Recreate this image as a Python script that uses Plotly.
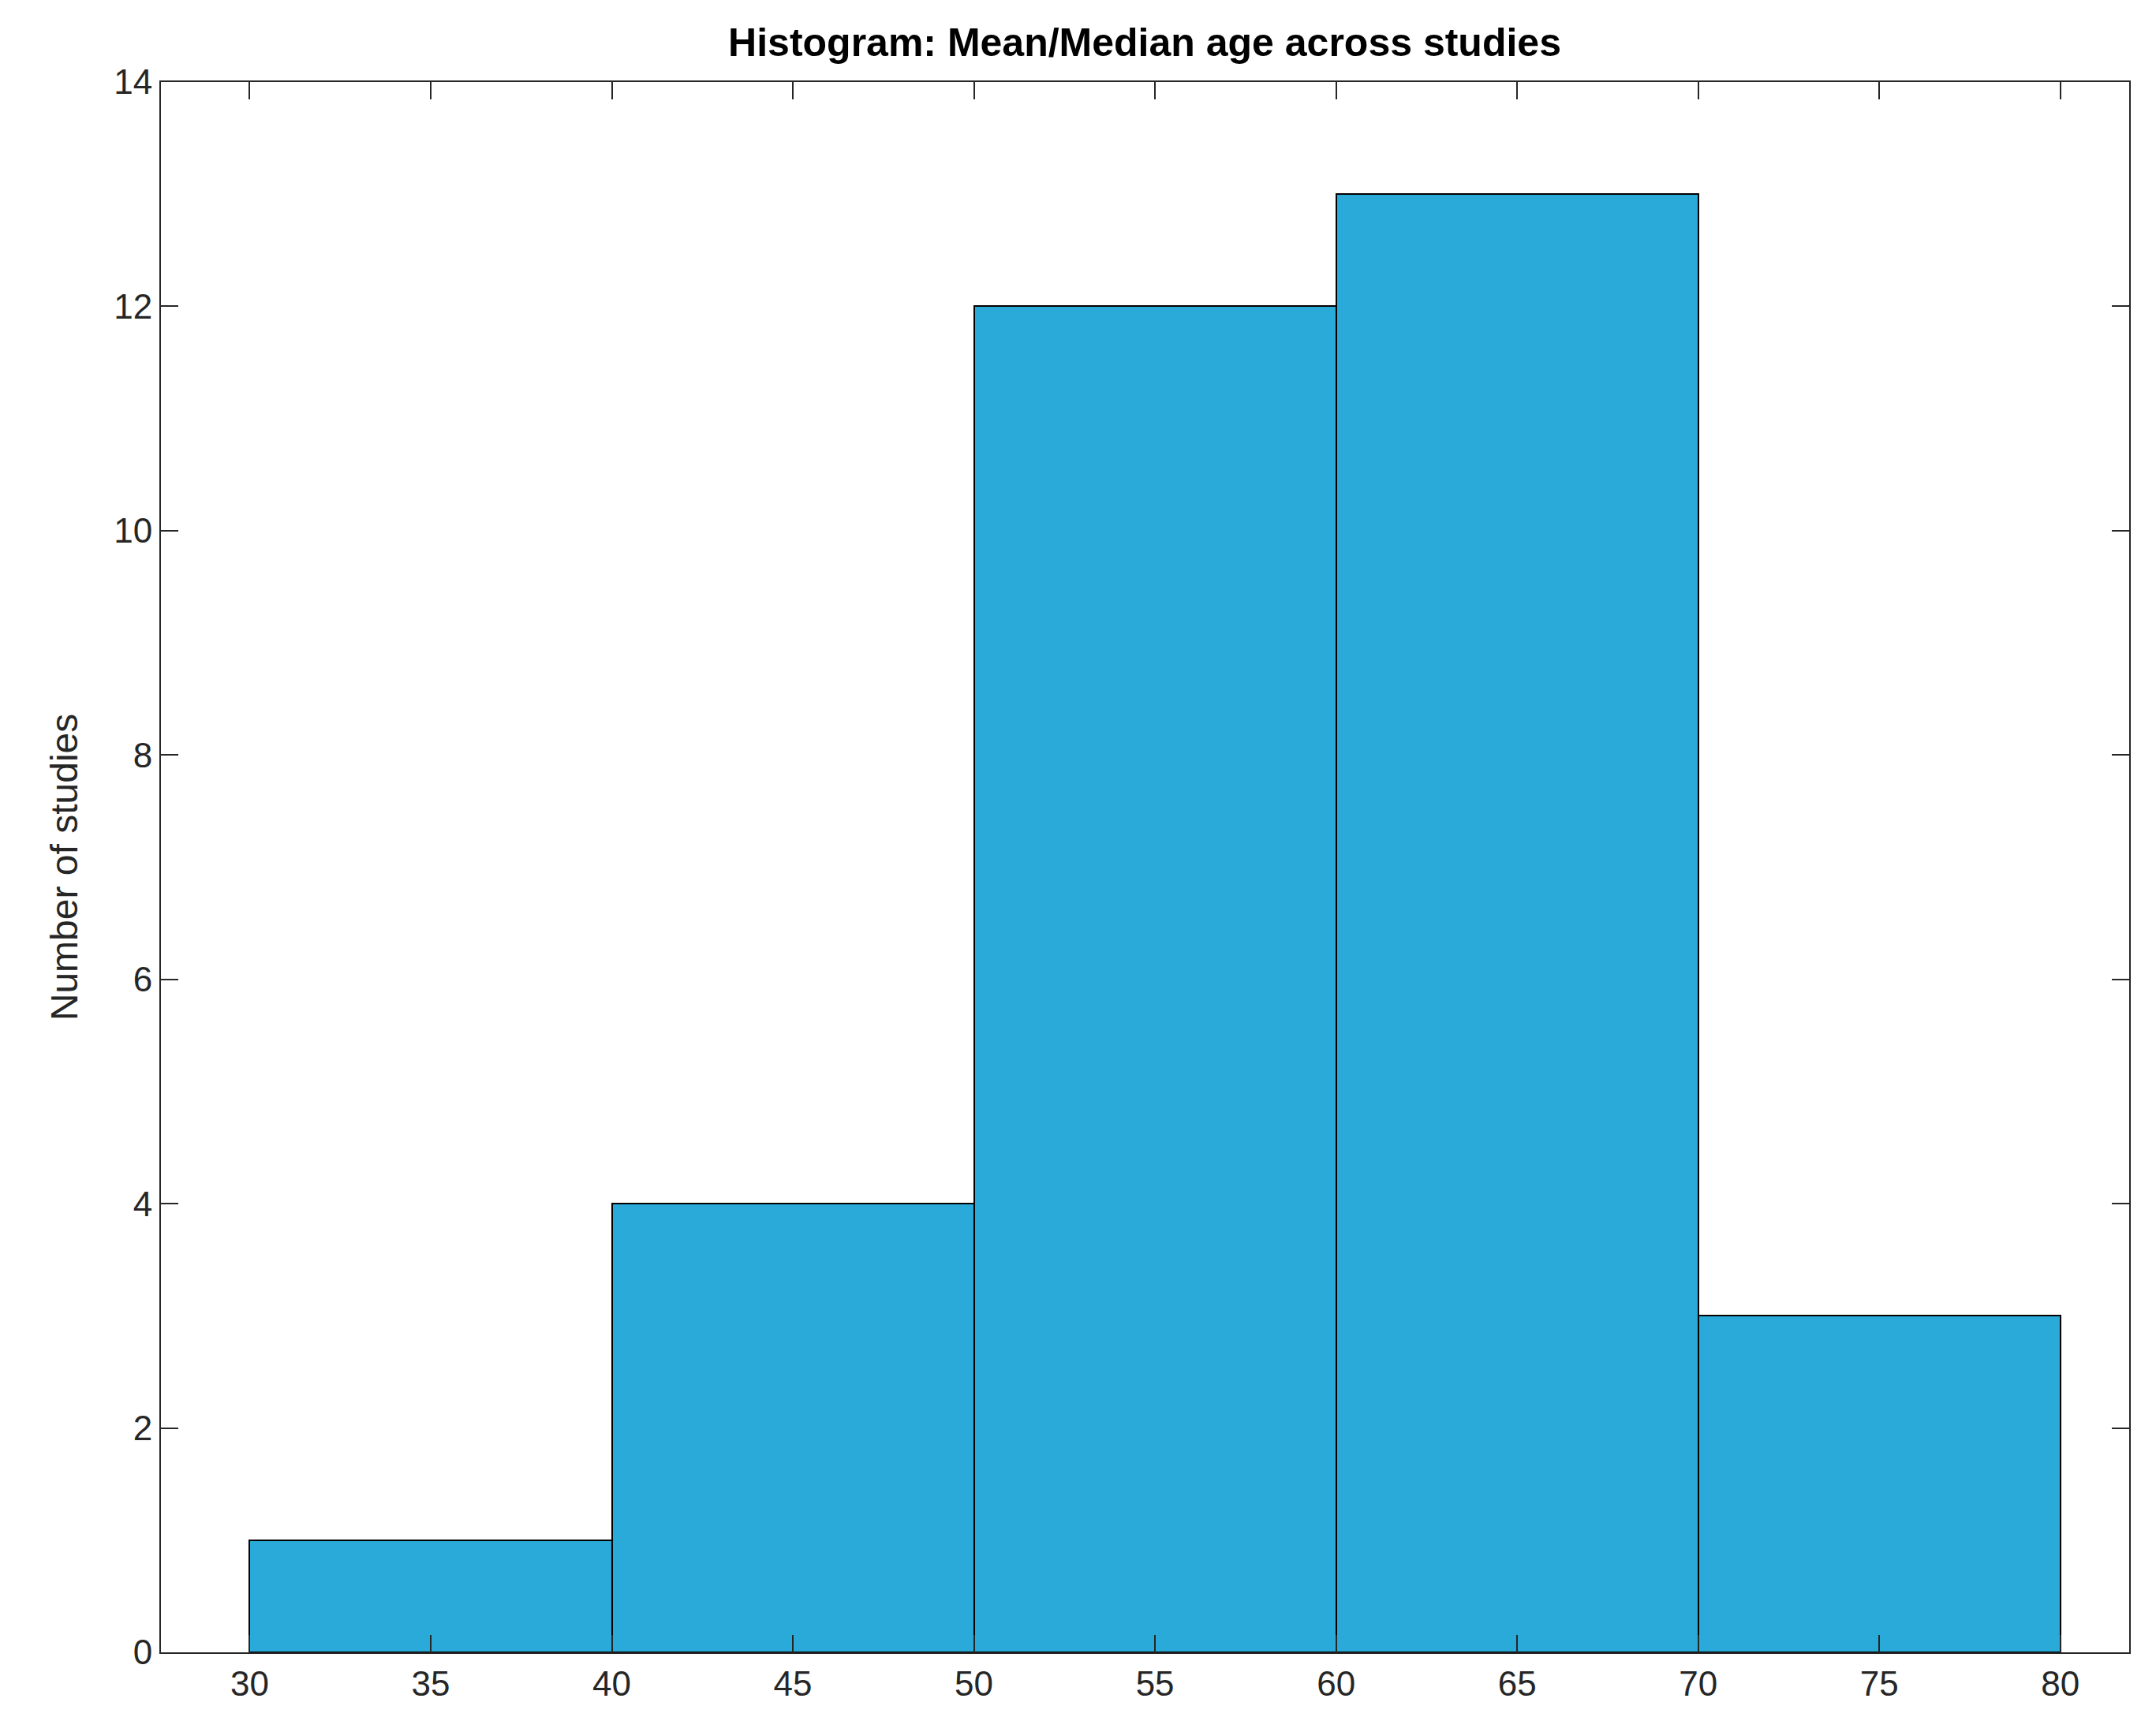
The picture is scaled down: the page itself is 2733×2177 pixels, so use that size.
import plotly.graph_objects as go

bin_centers = [35, 45, 55, 65, 75]
counts = [1, 4, 12, 13, 3]
x_ticks = [30, 35, 40, 45, 50, 55, 60, 65, 70, 75, 80]
y_ticks = [0, 2, 4, 6, 8, 10, 12, 14]

fig = go.Figure(go.Bar(x=bin_centers, y=counts, width=10,
                       marker=dict(color="#29AAD9", line=dict(color="black", width=2))))
ax = dict(showline=True, linecolor="#262626", linewidth=2, mirror="ticks",
          ticks="inside", ticklen=22, tickwidth=2, tickcolor="#262626",
          showgrid=False, zeroline=False, tickfont=dict(size=44, color="#262626"))
fig.update_layout(
    width=2733, height=2177, plot_bgcolor="white", paper_bgcolor="white",
    font=dict(family="Liberation Sans, Arial", color="#262626"),
    margin=dict(l=196, r=42, t=96, b=90),
    title=dict(text="<b>Histogram: Mean/Median age across studies</b>", x=0.528, xanchor="center",
               y=0.987, yanchor="top", font=dict(size=50, color="black")),
    xaxis=dict(range=[27.55, 81.9], tickvals=x_ticks, **ax),
    yaxis=dict(range=[0, 14], tickvals=y_ticks,
               title=dict(text="Number of studies", font=dict(size=48), standoff=30), **ax),
    bargap=0, showlegend=False,
)
fig.write_html("out.html")
